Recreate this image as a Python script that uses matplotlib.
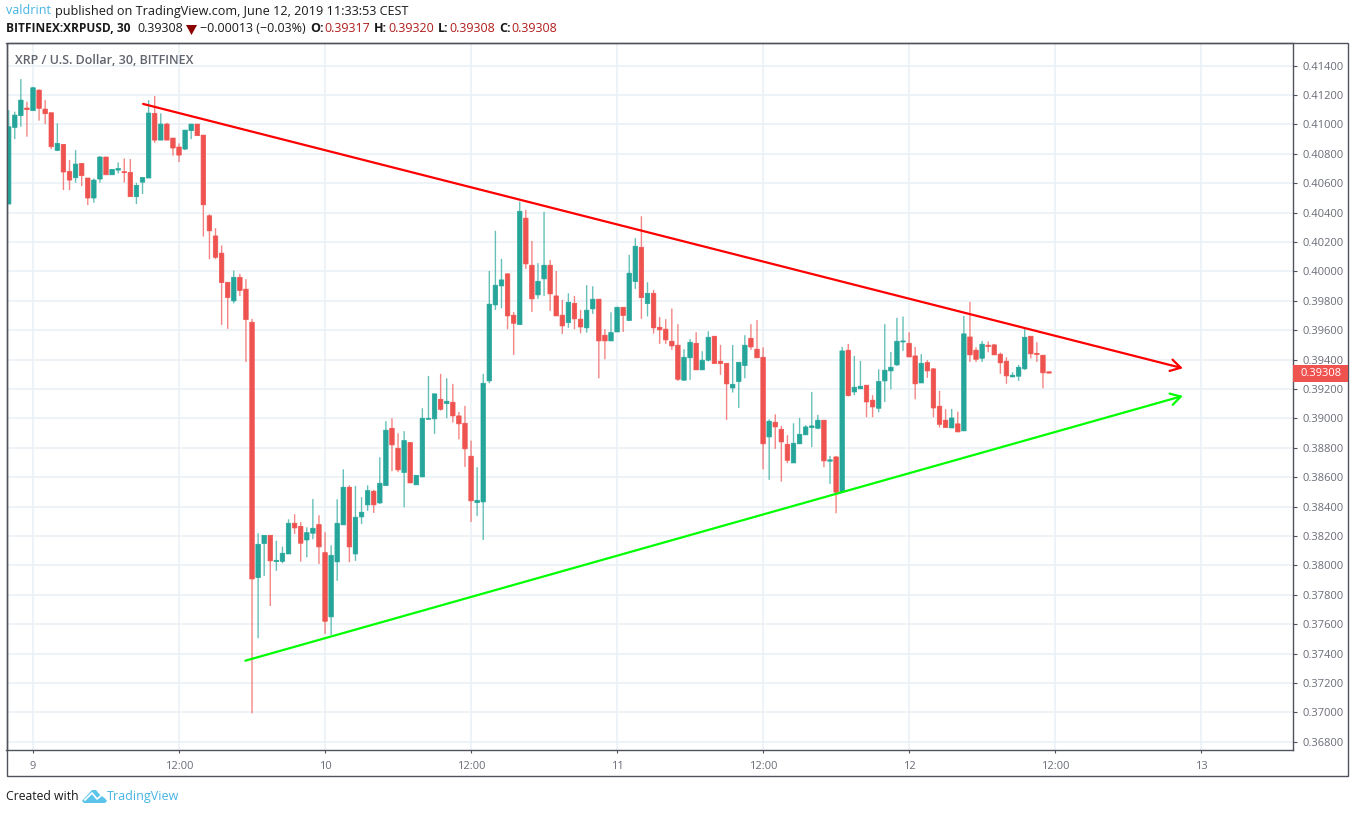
import matplotlib
matplotlib.use('Agg')
import matplotlib.pyplot as plt
from matplotlib.patches import Polygon, Rectangle
from matplotlib.transforms import blended_transform_factory
import numpy as np

plt.rcParams['font.family'] = ['Open Sans', 'DejaVu Sans']

# 30 min candles, XRP/USD
opens = [
    0.40458, 0.40979, 0.41059, 0.41111, 0.41093, 0.41233, 0.41104, 0.41079, 0.40823, 0.40864,
    0.40680, 0.40637, 0.40734, 0.40635, 0.40499, 0.40628, 0.40778, 0.40657, 0.40689, 0.40678,
    0.40673, 0.40508, 0.40607, 0.40635, 0.41075, 0.40893, 0.41002, 0.40907, 0.40846, 0.40832,
    0.40957, 0.41002, 0.40927, 0.40378, 0.40241, 0.40124, 0.39926, 0.39799, 0.39960, 0.39879,
    0.39654, 0.37917, 0.38149, 0.38205, 0.38026, 0.38028, 0.38078, 0.38287, 0.38266, 0.38173,
    0.38219, 0.38278, 0.38087, 0.37650, 0.38024, 0.38276, 0.38532, 0.38078, 0.38330, 0.38412,
    0.38505, 0.38425, 0.38543, 0.38933, 0.38797, 0.38632, 0.38836, 0.38548, 0.38602, 0.38994,
    0.38997, 0.39130, 0.39101, 0.39110, 0.39017, 0.38967, 0.38743, 0.38427, 0.38432, 0.39255,
    0.39772, 0.39901, 0.39983, 0.39702, 0.39638, 0.40362, 0.40042, 0.39840, 0.39949, 0.40042,
    0.39833, 0.39702, 0.39652, 0.39783, 0.39675, 0.39616, 0.39745, 0.39811, 0.39566, 0.39527,
    0.39588, 0.39756, 0.39666, 0.39931, 0.40164, 0.39781, 0.39851, 0.39620, 0.39607, 0.39525,
    0.39498, 0.39260, 0.39412, 0.39511, 0.39330, 0.39396, 0.39559, 0.39389, 0.39375, 0.39207,
    0.39251, 0.39359, 0.39545, 0.39471, 0.39416, 0.38874, 0.38974, 0.38926, 0.38824, 0.38697,
    0.38827, 0.38888, 0.38938, 0.38933, 0.38988, 0.38709, 0.38738, 0.38502, 0.39464, 0.39180,
    0.39201, 0.39226, 0.39124, 0.39069, 0.39255, 0.39323, 0.39364, 0.39520, 0.39511, 0.39425,
    0.39241, 0.39380, 0.39337, 0.39083, 0.38988, 0.38935, 0.38963, 0.38915, 0.39554, 0.39464,
    0.39409, 0.39498, 0.39500, 0.39437, 0.39389, 0.39282, 0.39287, 0.39337, 0.39559, 0.39443,
    0.39430, 0.39317]
highs = [
    0.41097, 0.41086, 0.41308, 0.41154, 0.41255, 0.41238, 0.41165, 0.41079, 0.41007, 0.40864,
    0.40757, 0.40825, 0.40734, 0.40635, 0.40632, 0.40784, 0.40778, 0.40694, 0.40741, 0.40768,
    0.40764, 0.40603, 0.40639, 0.41165, 0.41193, 0.41075, 0.41011, 0.40907, 0.40871, 0.40961,
    0.41002, 0.41002, 0.40927, 0.40389, 0.40294, 0.40176, 0.39926, 0.40006, 0.39983, 0.39947,
    0.39677, 0.38219, 0.38205, 0.38205, 0.38169, 0.38128, 0.38314, 0.38348, 0.38294, 0.38260,
    0.38452, 0.38341, 0.38226, 0.38137, 0.38450, 0.38654, 0.38545, 0.38541, 0.38464, 0.38545,
    0.38514, 0.38736, 0.38981, 0.39001, 0.38899, 0.38913, 0.38836, 0.38613, 0.39069, 0.39289,
    0.39167, 0.39303, 0.39273, 0.39235, 0.39044, 0.39085, 0.38849, 0.38668, 0.39303, 0.40003,
    0.40276, 0.40085, 0.39988, 0.39724, 0.40475, 0.40418, 0.40207, 0.40056, 0.40405, 0.40078,
    0.40003, 0.39806, 0.39851, 0.39833, 0.39738, 0.39906, 0.39899, 0.39811, 0.39607, 0.39722,
    0.39760, 0.39756, 0.40112, 0.40226, 0.40375, 0.39926, 0.39874, 0.39690, 0.39675, 0.39747,
    0.39641, 0.39471, 0.39539, 0.39586, 0.39457, 0.39593, 0.39559, 0.39500, 0.39375, 0.39500,
    0.39382, 0.39566, 0.39641, 0.39670, 0.39484, 0.38994, 0.39028, 0.38949, 0.38886, 0.38967,
    0.39003, 0.38954, 0.39180, 0.39024, 0.38988, 0.38745, 0.38745, 0.39486, 0.39507, 0.39425,
    0.39391, 0.39226, 0.39158, 0.39334, 0.39641, 0.39452, 0.39684, 0.39693, 0.39586, 0.39486,
    0.39437, 0.39396, 0.39342, 0.39187, 0.39062, 0.39065, 0.39046, 0.39697, 0.39793, 0.39484,
    0.39527, 0.39523, 0.39507, 0.39448, 0.39416, 0.39314, 0.39364, 0.39607, 0.39559, 0.39518,
    0.39430, 0.39320]
lows = [
    0.40458, 0.40900, 0.40984, 0.40916, 0.41093, 0.41025, 0.41002, 0.40832, 0.40818, 0.40553,
    0.40553, 0.40603, 0.40580, 0.40451, 0.40467, 0.40603, 0.40657, 0.40657, 0.40666, 0.40605,
    0.40508, 0.40458, 0.40526, 0.40635, 0.40875, 0.40893, 0.40893, 0.40787, 0.40744, 0.40825,
    0.40900, 0.40923, 0.40237, 0.40083, 0.40083, 0.39636, 0.39609, 0.39783, 0.39833, 0.39384,
    0.36994, 0.37505, 0.37929, 0.37724, 0.37963, 0.38015, 0.38078, 0.38214, 0.38026, 0.38056,
    0.38178, 0.38010, 0.37534, 0.37527, 0.37895, 0.38276, 0.38022, 0.38031, 0.38282, 0.38371,
    0.38357, 0.38418, 0.38543, 0.38641, 0.38634, 0.38396, 0.38561, 0.38548, 0.38602, 0.38994,
    0.38895, 0.39053, 0.39001, 0.38972, 0.38858, 0.38670, 0.38296, 0.38337, 0.38173, 0.39239,
    0.39738, 0.39749, 0.39607, 0.39432, 0.39638, 0.40017, 0.39724, 0.39813, 0.39833, 0.39731,
    0.39697, 0.39575, 0.39616, 0.39607, 0.39579, 0.39584, 0.39711, 0.39273, 0.39402, 0.39527,
    0.39588, 0.39588, 0.39666, 0.39881, 0.39677, 0.39693, 0.39577, 0.39507, 0.39507, 0.39466,
    0.39255, 0.39255, 0.39262, 0.39330, 0.39330, 0.39387, 0.39373, 0.39296, 0.38990, 0.39176,
    0.39071, 0.39273, 0.39466, 0.39412, 0.38654, 0.38582, 0.38793, 0.38570, 0.38695, 0.38697,
    0.38827, 0.38888, 0.38804, 0.38926, 0.38668, 0.38554, 0.38355, 0.38502, 0.39149, 0.39158,
    0.39201, 0.39008, 0.39008, 0.39042, 0.39112, 0.39198, 0.39357, 0.39459, 0.39418, 0.39130,
    0.39241, 0.39276, 0.39008, 0.38938, 0.38938, 0.38935, 0.38908, 0.38915, 0.39384, 0.39384,
    0.39384, 0.39450, 0.39432, 0.39303, 0.39235, 0.39282, 0.39255, 0.39330, 0.39407, 0.39384,
    0.39205, 0.39308]
closes = [
    0.40984, 0.41063, 0.41165, 0.41100, 0.41249, 0.41109, 0.41072, 0.40848, 0.40871, 0.40676,
    0.40621, 0.40730, 0.40651, 0.40499, 0.40621, 0.40778, 0.40657, 0.40694, 0.40700, 0.40671,
    0.40508, 0.40585, 0.40639, 0.41077, 0.40893, 0.41002, 0.40893, 0.40839, 0.40791, 0.40961,
    0.41002, 0.40923, 0.40453, 0.40276, 0.40096, 0.39924, 0.39822, 0.39960, 0.39870, 0.39672,
    0.37908, 0.38144, 0.38205, 0.38031, 0.38035, 0.38083, 0.38287, 0.38255, 0.38151, 0.38223,
    0.38253, 0.38126, 0.37620, 0.38069, 0.38287, 0.38532, 0.38126, 0.38328, 0.38362, 0.38509,
    0.38412, 0.38559, 0.38920, 0.38820, 0.38650, 0.38849, 0.38561, 0.38613, 0.39001, 0.39001,
    0.39167, 0.39062, 0.39117, 0.39017, 0.38963, 0.38793, 0.38439, 0.38443, 0.39239, 0.39777,
    0.39906, 0.39942, 0.39697, 0.39647, 0.40409, 0.40051, 0.39813, 0.39933, 0.40042, 0.39847,
    0.39697, 0.39629, 0.39790, 0.39677, 0.39622, 0.39736, 0.39811, 0.39527, 0.39527, 0.39584,
    0.39756, 0.39700, 0.39988, 0.40171, 0.39822, 0.39851, 0.39616, 0.39602, 0.39534, 0.39493,
    0.39266, 0.39416, 0.39518, 0.39330, 0.39396, 0.39552, 0.39373, 0.39373, 0.39235, 0.39232,
    0.39382, 0.39498, 0.39486, 0.39412, 0.38827, 0.38981, 0.38942, 0.38840, 0.38715, 0.38831,
    0.38892, 0.38942, 0.38949, 0.38988, 0.38711, 0.38718, 0.38498, 0.39459, 0.39155, 0.39212,
    0.39219, 0.39112, 0.39078, 0.39251, 0.39328, 0.39348, 0.39525, 0.39527, 0.39418, 0.39235,
    0.39375, 0.39323, 0.39071, 0.38960, 0.38938, 0.39003, 0.38908, 0.39575, 0.39432, 0.39402,
    0.39505, 0.39489, 0.39432, 0.39378, 0.39289, 0.39294, 0.39348, 0.39552, 0.39439, 0.39434,
    0.39310, 0.39308]

# bar numbers of the time axis labels, 48 bars a day
time_ticks = [4, 28, 52, 76, 100, 124, 148, 172, 196]
time_labels = ['9', '12:00', '10', '12:00', '11', '12:00', '12', '12:00', '13']
price_ticks = np.arange(0.368, 0.4141, 0.002)

# trend lines, (bar, price)
red_line = [(22.1, 0.41139), (193.0, 0.39341)]
green_line = [(38.9, 0.37352), (193.0, 0.39153)]
last_price = 0.39308

W, H = 1355, 813
UP = '#26a69a'
DOWN = '#ef5350'
FRAME = '#50535e'
LABEL = '#6a6d78'
GRID = '#e9f0f6'

fig = plt.figure(figsize=(W / 100, H / 100), dpi=100)


def fx(x):
    return x / W


def fy(y):
    return 1 - y / H


def txt(x, y, s, **kw):
    kw.setdefault('fontsize', 9)
    kw.setdefault('va', 'center')
    return fig.text(fx(x), fy(y), s, **kw)


ax = fig.add_axes([fx(6.5), fy(749.5), fx(1292.7 - 6.5), (749.5 - 43.5) / H])
ax.set_xlim(-0.357, 211.05)
ax.set_ylim(0.36748, 0.4155)

o = np.array(opens)
c = np.array(closes)
hi = np.array(highs)
lo = np.array(lows)
idx = np.arange(len(o))
colors = np.where(c >= o, UP, DOWN)

ax.vlines(idx, lo, hi, colors=colors, linewidth=1.0, alpha=0.7, zorder=3, snap=False)
bars = ax.bar(idx, np.abs(c - o), bottom=np.minimum(o, c), width=0.74, color=colors,
              edgecolor=colors, linewidth=0.5, zorder=4)
for b in bars:
    b.set_snap(False)

for line, col in [(red_line, '#ff0000'), (green_line, '#00ff00')]:
    ax.annotate('', xy=line[1], xytext=line[0], zorder=5,
                arrowprops=dict(arrowstyle='->,head_length=0.72,head_width=0.42', color=col,
                                lw=1.6, shrinkA=0, shrinkB=0, mutation_scale=10))

ax.set_xticks(time_ticks)
ax.set_xticklabels(time_labels)
ax.set_yticks(price_ticks)
ax.set_yticklabels(['%.5f' % p for p in price_ticks])
ax.yaxis.tick_right()
ax.grid(True, color=GRID, linewidth=1.1, zorder=0)
ax.set_axisbelow(True)
ax.tick_params(axis='y', length=3.2, width=0.8, color=FRAME, labelcolor=LABEL, labelsize=8, pad=4)
ax.tick_params(axis='x', length=2.5, width=0.8, color=FRAME, labelcolor=LABEL, labelsize=8, pad=6)
for s in ax.spines.values():
    s.set_color(FRAME)
    s.set_linewidth(1.0)

# outer frame round the chart and both scales
fig.add_artist(Rectangle((fx(6.5), fy(776)), fx(1348.3 - 6.5), (776 - 43.5) / H, fill=False,
                         edgecolor=FRAME, linewidth=1.0, transform=fig.transFigure))

# last price tag on the scale
trans = blended_transform_factory(fig.transFigure, ax.transData)
fig.add_artist(Rectangle((fx(1293), last_price - 0.00057), fx(55), 0.00114, facecolor=DOWN,
                         edgecolor='none', transform=trans, zorder=6))
fig.add_artist(plt.Text(fx(1321), last_price, '%.5f' % last_price, color='white', fontsize=8,
                        ha='center', va='center', transform=trans, zorder=7))

# header
BLACK = '#1a1a1a'
VALUE = '#b01c1c'
txt(6, 11, 'valdrint', color='#45b4e3')
txt(55, 11, 'published on TradingView.com, June 12, 2019 11:33:53 CEST', color=BLACK, fontsize=9.05)
txt(6, 29, 'BITFINEX:XRPUSD, 30', color=BLACK, fontweight='bold', fontsize=8.6)
txt(137, 29, '0.39308', color=BLACK)
fig.add_artist(Polygon([(fx(186), fy(25)), (fx(197), fy(25)), (fx(191.5), fy(35))],
                       facecolor='#8b0000', edgecolor='none', transform=fig.transFigure))
txt(200, 29, '\u22120.00013 (\u22120.03%)', color=BLACK)
for x_lab, lab, x_val, val in [(310, 'O:', 324, '0.39317'), (374, 'H:', 388, '0.39320'),
                               (438, 'L:', 449, '0.39308'), (499, 'C:', 511, '0.39308')]:
    txt(x_lab, 29, lab, color=BLACK, fontweight='bold')
    txt(x_val, 29, val, color=VALUE)

txt(15, 60, 'XRP / U.S. Dollar, 30, BITFINEX', color=FRAME, fontsize=9, fontweight='semibold',
    alpha=0.9)

# footer with the logo
txt(6, 796, 'Created with', color=BLACK, fontsize=8.8)
logo = [(82, 801), (92, 790), (96, 790), (100, 795), (104, 796), (107, 801), (105, 803), (84, 803)]
fig.add_artist(Polygon([(fx(a), fy(b)) for a, b in logo], facecolor='#5cc3ea', edgecolor='none',
                       transform=fig.transFigure))
fig.add_artist(plt.Line2D([fx(85), fx(92), fx(97), fx(102), fx(107)],
                          [fy(800), fy(793), fy(799), fy(795), fy(799)], color='white', lw=1.2,
                          transform=fig.transFigure))
txt(107, 796, 'TradingView', color='#45b4e3')

fig.savefig('out.png', dpi=100)
